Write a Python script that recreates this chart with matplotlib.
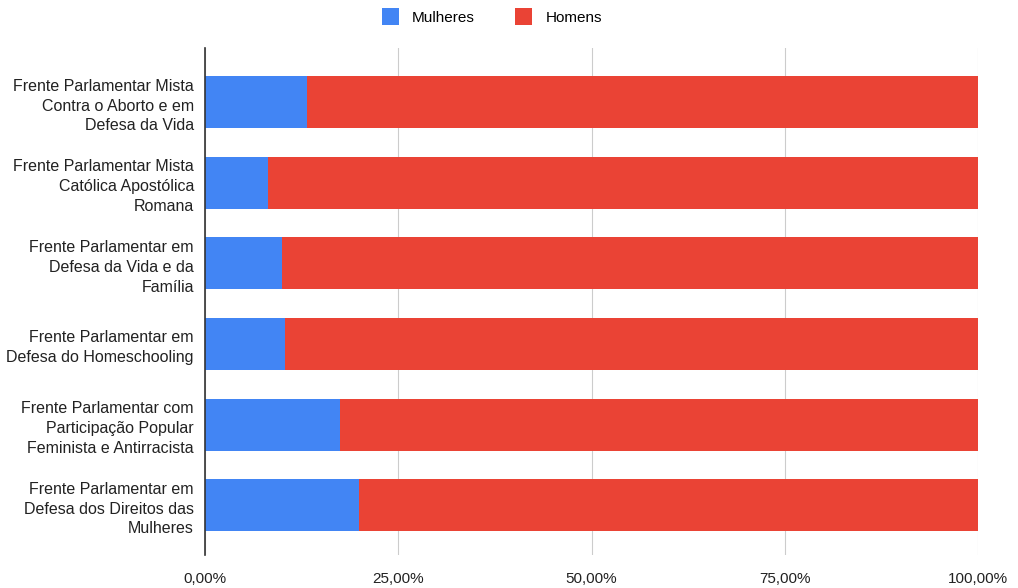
import numpy as np
import matplotlib.pyplot as plt
from matplotlib.ticker import FuncFormatter

plt.rcParams['font.family'] = ['Liberation Sans', 'DejaVu Sans']

frentes = [
    'Frente Parlamentar Mista\nContra o Aborto e em\nDefesa da Vida',
    'Frente Parlamentar Mista\nCatólica Apostólica\nRomana',
    'Frente Parlamentar em\nDefesa da Vida e da\nFamília',
    'Frente Parlamentar em\nDefesa do Homeschooling',
    'Frente Parlamentar com\nParticipação Popular\nFeminista e Antirracista',
    'Frente Parlamentar em\nDefesa dos Direitos das\nMulheres',
]
mulheres = [13.2, 8.1, 10.0, 10.4, 17.5, 19.9]
homens = [100 - m for m in mulheres]

azul = '#4285F4'
vermelho = '#EA4335'

fig = plt.figure(figsize=(10.18, 5.88), dpi=100)
ax = fig.add_axes([0.2014, 0.056, 0.7593, 0.862])

y = np.arange(len(frentes))
ax.barh(y, mulheres, height=0.645, color=azul, label='Mulheres', zorder=3)
ax.barh(y, homens, left=mulheres, height=0.645, color=vermelho, label='Homens', zorder=3)

ax.set_xlim(0, 100)
ax.set_ylim(len(frentes) - 0.38, -0.67)
ax.set_xticks([0, 25, 50, 75, 100])
ax.xaxis.set_major_formatter(FuncFormatter(lambda v, p: f'{v:.2f}%'.replace('.', ',')))
ax.set_yticks(y)
ax.set_yticklabels(frentes, fontsize=11.5, linespacing=1.4, color='#222222')
ax.tick_params(axis='both', length=0)
ax.tick_params(axis='x', labelsize=11, pad=12, colors='#222222')
ax.tick_params(axis='y', pad=8)

ax.grid(axis='x', color='#cccccc', linewidth=0.8, zorder=0)
for s in ['top', 'right', 'bottom']:
    ax.spines[s].set_visible(False)
ax.spines['left'].set_color('#333333')
ax.spines['left'].set_linewidth(1.2)
ax.spines['left'].set_zorder(4)

fig.legend(loc='upper center', bbox_to_anchor=(0.483, 1.01), ncol=2, frameon=False,
           fontsize=11, handlelength=1.15, handleheight=1.35, columnspacing=2.6, handletextpad=0.85)

fig.savefig('out.png', dpi=100)
